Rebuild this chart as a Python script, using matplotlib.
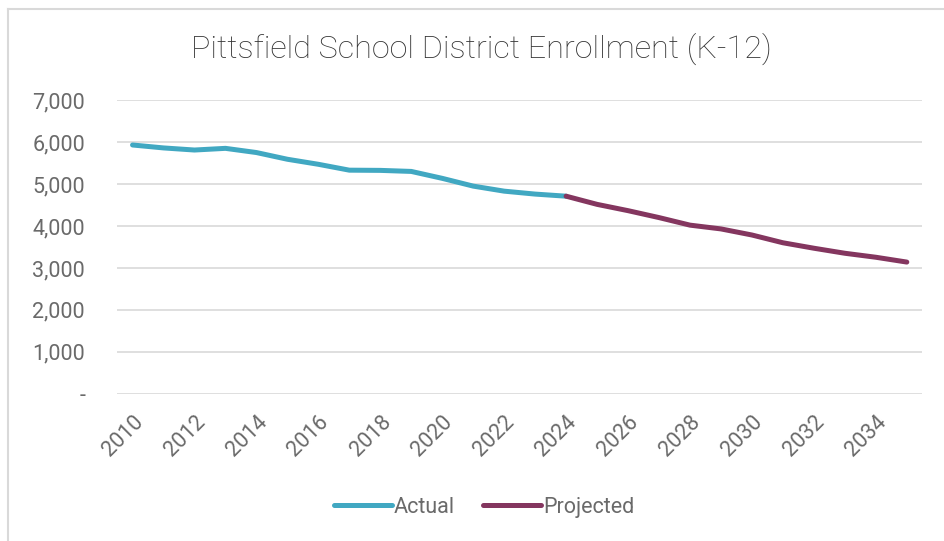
import matplotlib.pyplot as plt
from matplotlib.ticker import FuncFormatter
from matplotlib.lines import Line2D

plt.rcParams['font.family'] = ['Roboto', 'DejaVu Sans']

# Data
actual_years = [2010, 2011, 2012, 2013, 2014, 2015, 2016, 2017, 2018, 2019,
                2020, 2021, 2022, 2023, 2024]
actual_vals = [5930, 5860, 5810, 5850, 5750, 5590, 5470, 5330, 5325, 5300,
               5135, 4950, 4830, 4760, 4710]
proj_years = [2024, 2025, 2026, 2027, 2028, 2029, 2030, 2031, 2032, 2033,
              2034, 2035]
proj_vals = [4710, 4515, 4365, 4200, 4020, 3930, 3785, 3600, 3470, 3350,
             3255, 3140]
tick_years = list(range(2010, 2035, 2))

grey = '#6A6A6A'

fig = plt.figure(figsize=(9.44, 5.41), dpi=100)
ax = fig.add_axes([0.124, 0.272, 0.853, 0.543])

ax.plot(actual_years, actual_vals, color='#41A8C2', lw=3.6,
        solid_capstyle='round', label='Actual', zorder=3)
ax.plot(proj_years, proj_vals, color='#84365F', lw=3.6,
        solid_capstyle='round', label='Projected', zorder=3)

ax.set_xlim(2009.5, 2035.5)
ax.set_ylim(0, 7000)
ax.set_yticks(range(0, 7001, 1000))
ax.yaxis.set_major_formatter(FuncFormatter(lambda v, p: '-' if v == 0 else f'{int(v):,}'))
ax.set_xticks(tick_years)
ax.set_xticklabels([str(y) for y in tick_years], rotation=45, ha='right',
                   rotation_mode='anchor')

ax.grid(axis='y', color='#D9D9D9', lw=1.2)
ax.set_axisbelow(True)
for s in ax.spines.values():
    s.set_visible(False)
ax.tick_params(length=0, colors=grey, labelsize=15.5)
ax.tick_params(axis='y', pad=23)
ax.tick_params(axis='x', pad=13)

fig.suptitle('Pittsfield School District Enrollment (K-12)', x=0.51, y=0.94,
             fontsize=23.3, color='#333333', fontweight='light')

leg = fig.legend(loc='center', bbox_to_anchor=(0.513, 0.062), ncol=2,
                 frameon=False, fontsize=15.5, handlelength=2.7,
                 columnspacing=1.3, handletextpad=0.1)
for t in leg.get_texts():
    t.set_color(grey)

# chart frame (top and left edges visible)
x0, y0 = 7.5 / 944, 1 - 8.5 / 541
fig.add_artist(Line2D([x0, 1.0], [y0, y0], transform=fig.transFigure,
                      color='#D9D9D9', lw=1.5))
fig.add_artist(Line2D([x0, x0], [0.0, y0], transform=fig.transFigure,
                      color='#D9D9D9', lw=1.5))

fig.savefig('out.png', dpi=100)
